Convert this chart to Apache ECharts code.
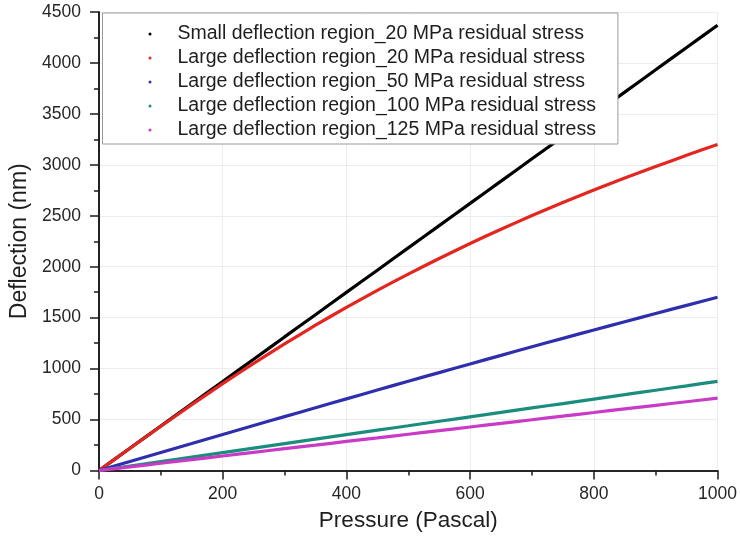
<!DOCTYPE html>
<html>
<head>
<meta charset="utf-8">
<script src="https://cdn.jsdelivr.net/npm/echarts@6/dist/echarts.min.js"></script>
<style>
html,body{margin:0;padding:0;background:#fff;}
#chart{width:740px;height:539px;}
</style>
</head>
<body>
<div id="chart"></div>
<script>
// Pressure (Pa)
const pressure = [0,50,100,150,200,250,300,350,400,450,500,550,600,650,700,750,800,850,900,950,1000];
// Deflection (nm)
const smallDefl20 = [0,218,437,655,874,1092,1311,1529,1748,1966,2185,2403,2622,2840,3059,3277,3496,3714,3933,4151,4370];
const largeDefl20 = [0,218,434,646,852,1051,1242,1426,1601,1768,1928,2081,2228,2368,2502,2630,2752,2870,2983,3094,3200];
const largeDefl50 = [0,88,177,265,354,442,529,616,703,790,876,961,1046,1130,1214,1297,1379,1460,1541,1621,1700];
const largeDefl100 = [0,44,88,132,176,220,264,308,352,396,439,483,527,570,614,657,701,744,788,831,875];
const largeDefl125 = [0,36,71,107,142,178,214,249,285,320,356,391,427,462,498,534,569,605,640,675,710];

const seriesNames = [
  'Small deflection region_20 MPa residual stress',
  'Large deflection region_20 MPa residual stress',
  'Large deflection region_50 MPa residual stress',
  'Large deflection region_100 MPa residual stress',
  'Large deflection region_125 MPa residual stress'
];
const seriesData = [smallDefl20, largeDefl20, largeDefl50, largeDefl100, largeDefl125];
const colors = ['#000000', '#e3261f', '#2f2fae', '#1b8d7d', '#c93ac6'];

const FONT = '"Liberation Sans", Arial, sans-serif';
const axisColor = '#1a1a1a';

const chart = echarts.init(document.getElementById('chart'), null, {renderer: 'canvas'});

const series = seriesNames.map((name, i) => ({
  name: name,
  type: 'line',
  xAxisIndex: 0,
  yAxisIndex: 0,
  showSymbol: false,
  symbol: 'circle',
  symbolSize: 3,
  smooth: 0.2,
  lineStyle: {color: colors[i], width: 3.2},
  itemStyle: {color: colors[i]},
  data: pressure.map((p, k) => [p, seriesData[i][k]]),
  animation: false
}));

const plain = v => String(v);

chart.setOption({
  animation: false,
  backgroundColor: '#ffffff',
  grid: {left: 99, right: 20, top: 12, bottom: 68.5, containLabel: false},
  legend: {
    orient: 'vertical',
    left: 102.5,
    top: 13,
    data: seriesNames.map(n => ({name: n, icon: 'circle'})),
    itemWidth: 3,
    itemHeight: 3,
    itemGap: 4,
    padding: [11, 22, 4, 46],
    backgroundColor: '#ffffff',
    borderColor: '#9a9a9a',
    borderWidth: 1,
    textStyle: {fontFamily: FONT, fontSize: 19.5, color: '#1e1e1e', lineHeight: 20, padding: [0, 0, 0, 21]}
  },
  xAxis: [{
    type: 'value',
    min: 0, max: 1000, interval: 200,
    position: 'bottom',
    name: 'Pressure (Pascal)',
    nameLocation: 'middle',
    nameGap: 39,
    nameTextStyle: {fontFamily: FONT, fontSize: 22.5, color: '#1e1e1e'},
    axisLine: {show: true, lineStyle: {color: axisColor, width: 1.6}},
    axisTick: {show: true, inside: false, length: 9, lineStyle: {color: axisColor, width: 1.5}},
    minorTick: {show: true, splitNumber: 2, length: 5, lineStyle: {color: axisColor, width: 1.5}},
    axisLabel: {fontFamily: FONT, fontSize: 17.5, color: '#262626', margin: 15, formatter: plain},
    splitLine: {show: true, lineStyle: {color: '#ececec', width: 1}}
  }, {
    type: 'value',
    min: 0, max: 1000, interval: 100,
    position: 'top',
    axisLine: {show: true, lineStyle: {color: axisColor, width: 1.6}},
    axisTick: {show: true, inside: true, length: 4, lineStyle: {color: axisColor, width: 1.5}},
    axisLabel: {show: false},
    splitLine: {show: false}
  }],
  yAxis: [{
    type: 'value',
    min: 0, max: 4500, interval: 500,
    position: 'left',
    name: 'Deflection (nm)',
    nameLocation: 'middle',
    nameGap: 67,
    nameTextStyle: {fontFamily: FONT, fontSize: 23, color: '#1e1e1e'},
    axisLine: {show: true, lineStyle: {color: axisColor, width: 1.6}},
    axisTick: {show: true, inside: false, length: 9, lineStyle: {color: axisColor, width: 1.5}},
    minorTick: {show: true, splitNumber: 2, length: 5, lineStyle: {color: axisColor, width: 1.5}},
    axisLabel: {fontFamily: FONT, fontSize: 17.5, color: '#262626', margin: 18, formatter: plain},
    splitLine: {show: true, lineStyle: {color: '#ececec', width: 1}}
  }, {
    type: 'value',
    min: 0, max: 4500, interval: 250,
    position: 'right',
    axisLine: {show: true, lineStyle: {color: axisColor, width: 1.6}},
    axisTick: {show: true, inside: true, length: 5, lineStyle: {color: axisColor, width: 1.5}},
    axisLabel: {show: false},
    splitLine: {show: false}
  }],
  series: series
});
</script>
</body>
</html>
